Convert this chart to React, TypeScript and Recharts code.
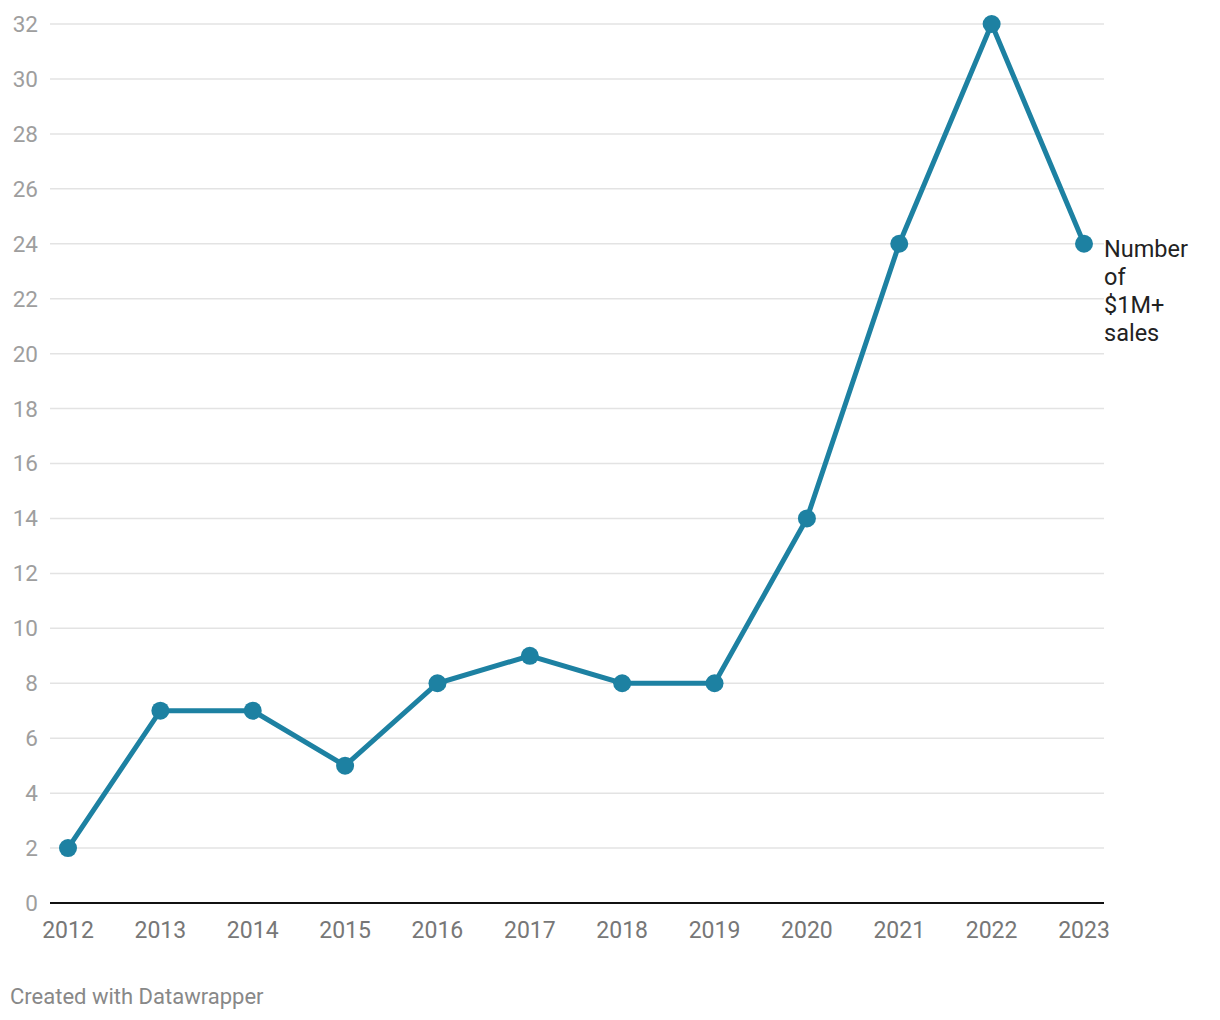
import React from 'react';
import { LineChart, Line, XAxis, YAxis, CartesianGrid } from 'recharts';

const years = ['2012', '2013', '2014', '2015', '2016', '2017', '2018', '2019', '2020', '2021', '2022', '2023'];
const sales = [2, 7, 7, 5, 8, 9, 8, 8, 14, 24, 32, 24];
const yTicks = [0, 2, 4, 6, 8, 10, 12, 14, 16, 18, 20, 22, 24, 26, 28, 30, 32];
const seriesLabel = ['Number', 'of', '$1M+', 'sales'];

const data = years.map((year, i) => ({ year, sales: sales[i] }));

const LINE_COLOR = '#1d81a2';

export default function App() {
    const lastLabel = (props: { x?: number; y?: number; index?: number }) => {
        const { x, y, index } = props;
        if (index !== data.length - 1 || typeof x !== 'number' || typeof y !== 'number') return null;
        return (
            <text x={x + 20} y={y} fill="#222" fontSize={23.5} fontFamily="Roboto" dominantBaseline="central">
                {seriesLabel.map((line, i) => (
                    <tspan key={line} x={x + 20} dy={i === 0 ? 5 : 28}>{line}</tspan>
                ))}
            </text>
        );
    };

    return (
        <div style={{ position: 'absolute', left: 0, top: 0, width: 1220, height: 1020, background: '#fff', fontFamily: 'Roboto' }}>
            <LineChart width={1220} height={1020} data={data} margin={{ top: 24, right: 116, left: 0, bottom: 87 }}>
                <CartesianGrid horizontal vertical={false} stroke="#e3e3e3" strokeWidth={1.5} />
                <XAxis
                    dataKey="year"
                    height={30}
                    padding={{ left: 18, right: 20 }}
                    tickLine={false}
                    tickSize={0}
                    tickMargin={19}
                    axisLine={{ stroke: '#111', strokeWidth: 2 }}
                    tick={{ fill: '#777', fontSize: 23, fontFamily: 'Roboto' }}
                    interval={0}
                />
                <YAxis
                    width={50}
                    domain={[0, 32]}
                    ticks={yTicks}
                    tickLine={false}
                    axisLine={false}
                    tickSize={0}
                    tickMargin={12}
                    tick={{ fill: '#9e9e9e', fontSize: 22.5, fontFamily: 'Roboto' }}
                    interval={0}
                />
                <Line
                    type="linear"
                    dataKey="sales"
                    stroke={LINE_COLOR}
                    strokeWidth={5}
                    dot={{ r: 9, fill: LINE_COLOR, stroke: 'none' }}
                    activeDot={false}
                    isAnimationActive={false}
                    label={lastLabel}
                />
            </LineChart>
            <div style={{ position: 'absolute', left: 10, top: 984, fontSize: 22, color: '#888', fontFamily: 'Roboto' }}>
                Created with Datawrapper
            </div>
        </div>
    );
}
